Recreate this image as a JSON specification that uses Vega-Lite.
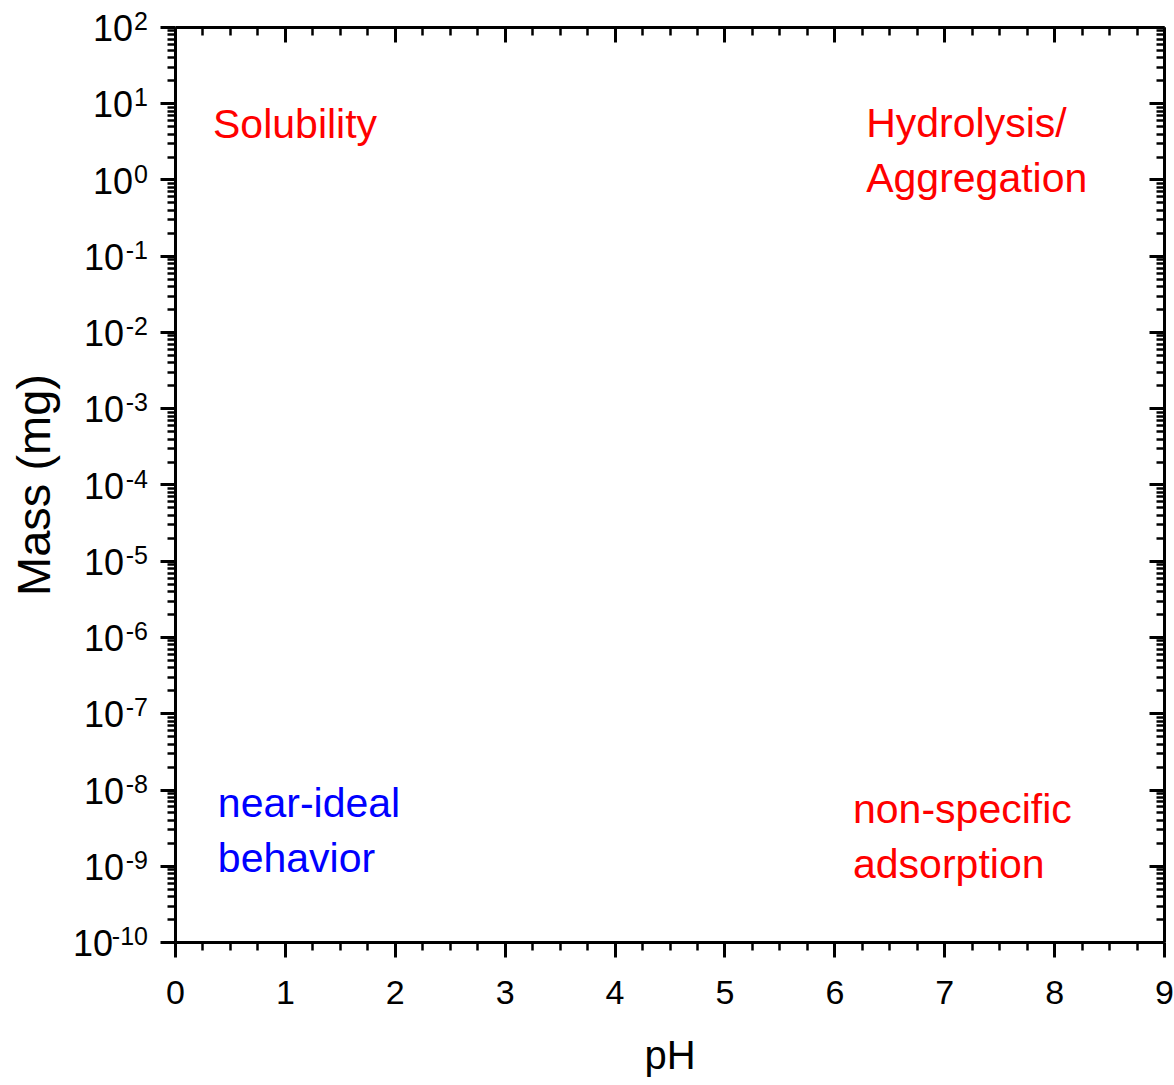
{
  "$schema": "https://vega.github.io/schema/vega-lite/v6.json",
  "width": 989,
  "height": 915,
  "autosize": "none",
  "padding": {"left": 175, "top": 27, "right": 10, "bottom": 143},
  "background": "white",
  "config": {
    "font": "Liberation Sans",
    "view": {"stroke": null},
    "axis": {"grid": false, "domainColor": "black", "domainWidth": 3, "tickColor": "black", "labelColor": "black", "titleColor": "black", "titleFontWeight": "normal", "labelFont": "Liberation Sans", "titleFont": "Liberation Sans"}
  },
  "datasets": {
    "ann": [
      {"pH": 0.346, "m": 3.5, "label": "Solubility", "group": "non-ideal"},
      {"pH": 6.29, "m": 3.6, "label": "Hydrolysis/\nAggregation", "group": "non-ideal"},
      {"pH": 0.39, "m": 4.4e-9, "label": "near-ideal\nbehavior", "group": "ideal"},
      {"pH": 6.17, "m": 3.6e-9, "label": "non-specific\nadsorption", "group": "non-ideal"}
    ],
    "ylab": [
      {"v": 1e-10, "e": "-10"}, {"v": 1e-9, "e": "-9"}, {"v": 1e-8, "e": "-8"}, {"v": 1e-7, "e": "-7"},
      {"v": 1e-6, "e": "-6"}, {"v": 1e-5, "e": "-5"}, {"v": 1e-4, "e": "-4"}, {"v": 1e-3, "e": "-3"},
      {"v": 1e-2, "e": "-2"}, {"v": 1e-1, "e": "-1"}, {"v": 1, "e": "0"}, {"v": 10, "e": "1"}, {"v": 100, "e": "2"}
    ]
  },
  "resolve": {"axis": {"x": "independent", "y": "independent"}},
  "layer": [
    {
      "data": {"name": "ann"},
      "mark": {"type": "text", "align": "left", "baseline": "alphabetic", "fontSize": 41, "lineBreak": "\n", "lineHeight": 55},
      "encoding": {
        "x": {"field": "pH", "type": "quantitative",
          "scale": {"domain": [0, 9], "nice": false, "zero": false},
          "axis": {"orient": "bottom", "title": "pH", "titleFontSize": 40, "titlePadding": 26,
            "values": [0,0.25,0.5,0.75,1,1.25,1.5,1.75,2,2.25,2.5,2.75,3,3.25,3.5,3.75,4,4.25,4.5,4.75,5,5.25,5.5,5.75,6,6.25,6.5,6.75,7,7.25,7.5,7.75,8,8.25,8.5,8.75,9],
            "labelExpr": "datum.value % 1 == 0 ? format(datum.value, 'd') : ''",
            "labelFontSize": 34, "labelPadding": 19, "labelOverlap": false, "labelFlush": false,
            "tickSize": {"condition": {"test": "datum.value % 1 == 0", "value": 15}, "value": 8},
            "tickWidth": {"condition": {"test": "datum.value % 1 == 0", "value": 3}, "value": 2.5}}},
        "y": {"field": "m", "type": "quantitative",
          "scale": {"type": "log", "domain": [1e-10, 100], "nice": false},
          "axis": {"orient": "left", "title": "Mass (mg)", "titleFontSize": 47, "titlePadding": 99, "labels": false,
            "values": [1e-10,2e-10,3e-10,4e-10,5e-10,6e-10,7e-10,8e-10,9e-10,1e-9,2e-9,3e-9,4e-9,5e-9,6e-9,7e-9,8e-9,9e-9,1e-8,2e-8,3e-8,4e-8,5e-8,6e-8,7e-8,8e-8,9e-8,1e-7,2e-7,3e-7,4e-7,5e-7,6e-7,7e-7,8e-7,9e-7,1e-6,2e-6,3e-6,4e-6,5e-6,6e-6,7e-6,8e-6,9e-6,1e-5,2e-5,3e-5,4e-5,5e-5,6e-5,7e-5,8e-5,9e-5,1e-4,2e-4,3e-4,4e-4,5e-4,6e-4,7e-4,8e-4,9e-4,1e-3,2e-3,3e-3,4e-3,5e-3,6e-3,7e-3,8e-3,9e-3,1e-2,2e-2,3e-2,4e-2,5e-2,6e-2,7e-2,8e-2,9e-2,1e-1,2e-1,3e-1,4e-1,5e-1,6e-1,7e-1,8e-1,9e-1,1,2,3,4,5,6,7,8,9,10,20,30,40,50,60,70,80,90,100],
            "tickSize": {"condition": {"test": "abs(log(datum.value)/LN10 - round(log(datum.value)/LN10)) < 0.001", "value": 15}, "value": 8},
            "tickWidth": {"condition": {"test": "abs(log(datum.value)/LN10 - round(log(datum.value)/LN10)) < 0.001", "value": 3}, "value": 2.5}}},
        "text": {"field": "label"},
        "color": {"field": "group", "type": "nominal", "scale": {"domain": ["non-ideal", "ideal"], "range": ["#FF0000", "#0000FF"]}, "legend": null}
      }
    },
    {
      "data": {"name": "ann"},
      "mark": {"type": "point", "opacity": 0},
      "encoding": {
        "x": {"field": "pH", "type": "quantitative",
          "axis": {"orient": "top", "title": null, "labels": false,
            "values": [0,0.25,0.5,0.75,1,1.25,1.5,1.75,2,2.25,2.5,2.75,3,3.25,3.5,3.75,4,4.25,4.5,4.75,5,5.25,5.5,5.75,6,6.25,6.5,6.75,7,7.25,7.5,7.75,8,8.25,8.5,8.75,9],
            "tickSize": {"condition": {"test": "datum.value % 1 == 0", "value": -15}, "value": -8},
            "tickWidth": {"condition": {"test": "datum.value % 1 == 0", "value": 3}, "value": 2.5}}},
        "y": {"field": "m", "type": "quantitative",
          "axis": {"orient": "right", "title": null, "labels": false,
            "values": [1e-10,2e-10,3e-10,4e-10,5e-10,6e-10,7e-10,8e-10,9e-10,1e-9,2e-9,3e-9,4e-9,5e-9,6e-9,7e-9,8e-9,9e-9,1e-8,2e-8,3e-8,4e-8,5e-8,6e-8,7e-8,8e-8,9e-8,1e-7,2e-7,3e-7,4e-7,5e-7,6e-7,7e-7,8e-7,9e-7,1e-6,2e-6,3e-6,4e-6,5e-6,6e-6,7e-6,8e-6,9e-6,1e-5,2e-5,3e-5,4e-5,5e-5,6e-5,7e-5,8e-5,9e-5,1e-4,2e-4,3e-4,4e-4,5e-4,6e-4,7e-4,8e-4,9e-4,1e-3,2e-3,3e-3,4e-3,5e-3,6e-3,7e-3,8e-3,9e-3,1e-2,2e-2,3e-2,4e-2,5e-2,6e-2,7e-2,8e-2,9e-2,1e-1,2e-1,3e-1,4e-1,5e-1,6e-1,7e-1,8e-1,9e-1,1,2,3,4,5,6,7,8,9,10,20,30,40,50,60,70,80,90,100],
            "tickSize": {"condition": {"test": "abs(log(datum.value)/LN10 - round(log(datum.value)/LN10)) < 0.001", "value": -15}, "value": -8},
            "tickWidth": {"condition": {"test": "abs(log(datum.value)/LN10 - round(log(datum.value)/LN10)) < 0.001", "value": 3}, "value": 2.5}}}
      }
    },
    {
      "data": {"name": "ylab"},
      "transform": [{"filter": "length(datum.e) == 1"}],
      "mark": {"type": "text", "align": "right", "baseline": "alphabetic", "fontSize": 36, "dx": -42, "dy": 14, "color": "black"},
      "encoding": {
        "x": {"datum": 0, "type": "quantitative", "axis": null},
        "y": {"field": "v", "type": "quantitative", "axis": null},
        "text": {"value": "10"}
      }
    },
    {
      "data": {"name": "ylab"},
      "transform": [{"filter": "length(datum.e) == 2"}],
      "mark": {"type": "text", "align": "right", "baseline": "alphabetic", "fontSize": 36, "dx": -51, "dy": 14, "color": "black"},
      "encoding": {
        "x": {"datum": 0, "type": "quantitative", "axis": null},
        "y": {"field": "v", "type": "quantitative", "axis": null},
        "text": {"value": "10"}
      }
    },
    {
      "data": {"name": "ylab"},
      "transform": [{"filter": "length(datum.e) == 3"}],
      "mark": {"type": "text", "align": "right", "baseline": "alphabetic", "fontSize": 36, "dx": -62, "dy": 14, "color": "black"},
      "encoding": {
        "x": {"datum": 0, "type": "quantitative", "axis": null},
        "y": {"field": "v", "type": "quantitative", "axis": null},
        "text": {"value": "10"}
      }
    },
    {
      "data": {"name": "ylab"},
      "mark": {"type": "text", "align": "right", "baseline": "alphabetic", "fontSize": 25, "dx": -27, "dy": 3, "color": "black"},
      "encoding": {
        "x": {"datum": 0, "type": "quantitative", "axis": null},
        "y": {"field": "v", "type": "quantitative", "axis": null},
        "text": {"field": "e"}
      }
    }
  ]
}
